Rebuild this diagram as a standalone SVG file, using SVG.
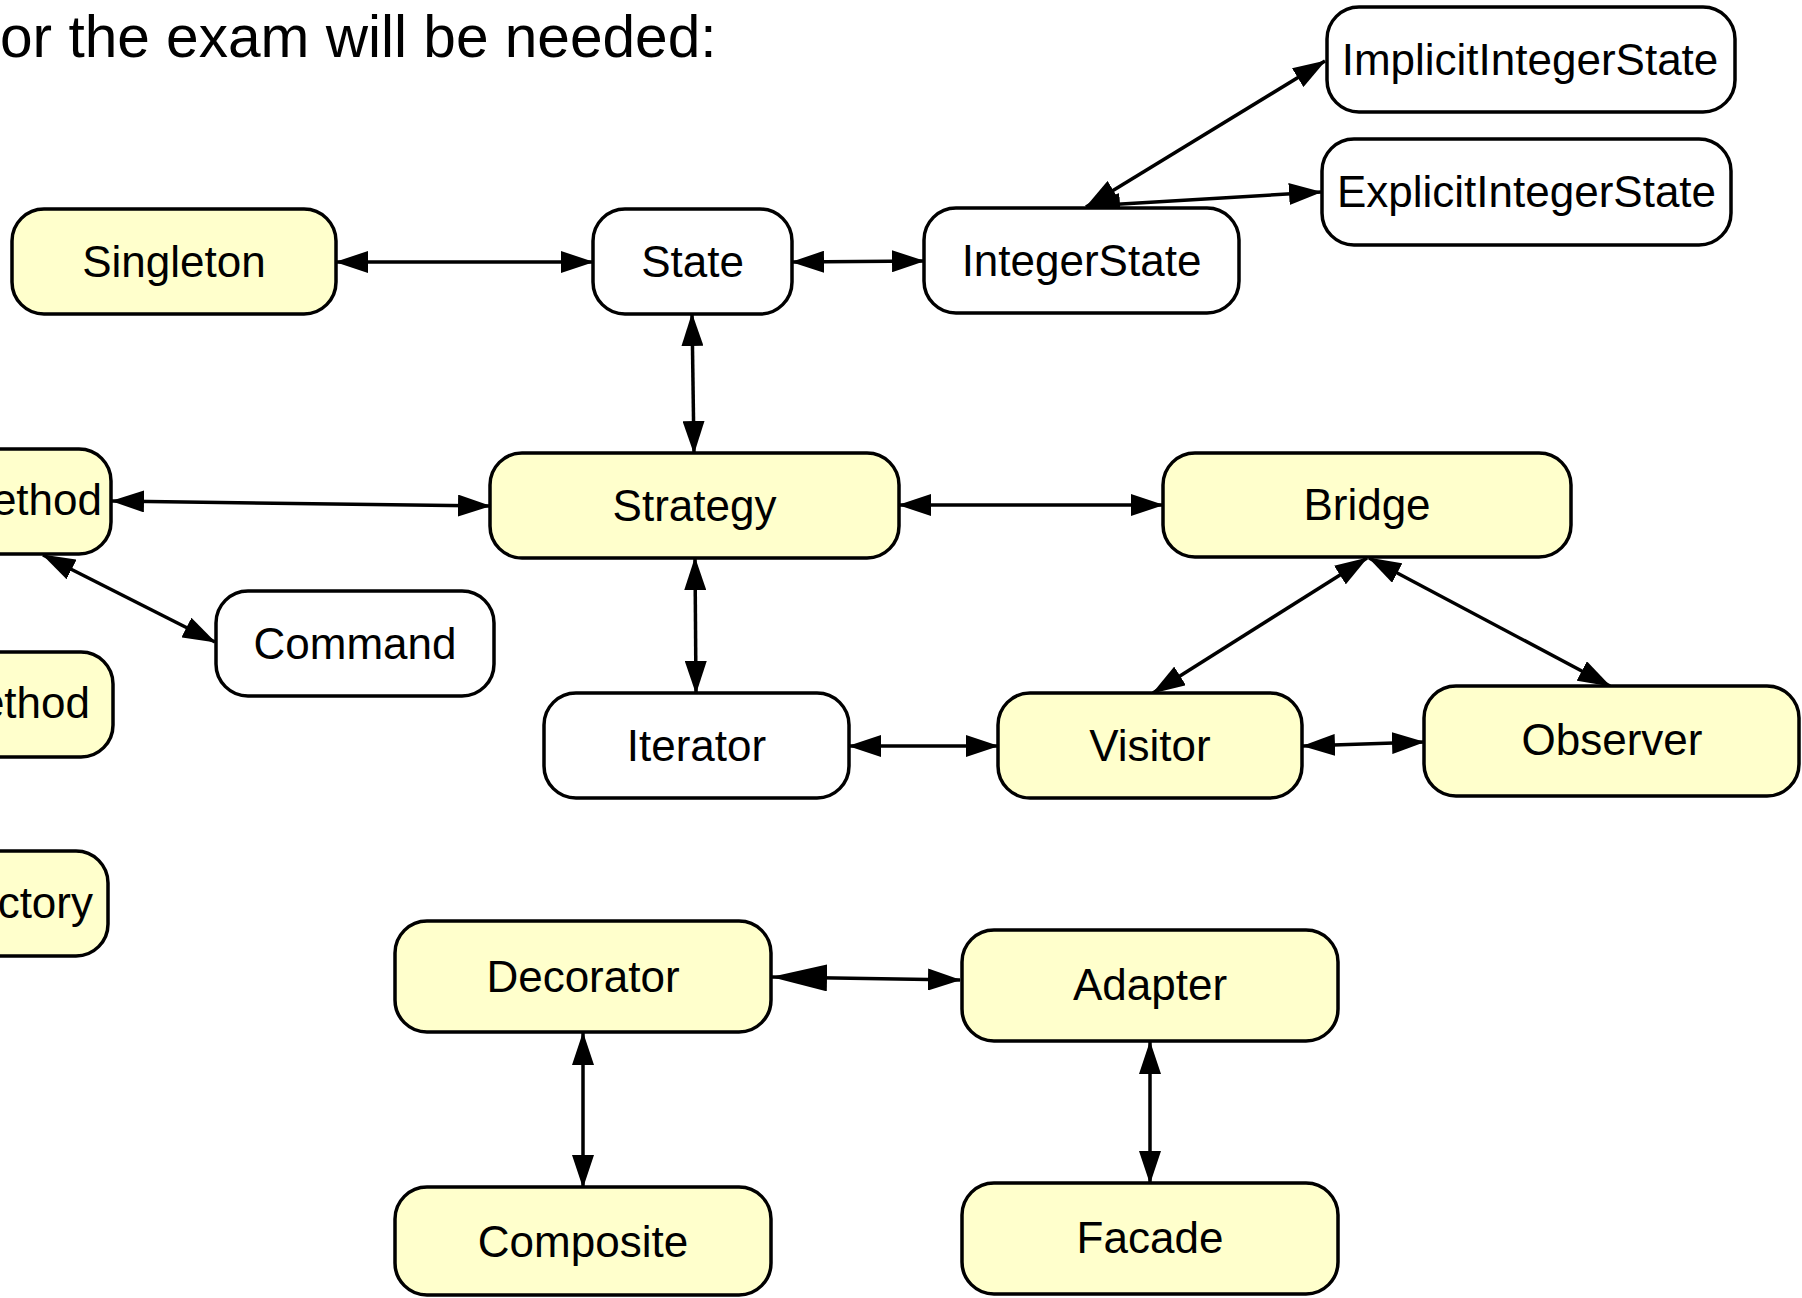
<svg xmlns="http://www.w3.org/2000/svg" width="1802" height="1298" viewBox="0 0 1802 1298">
<style>
.n rect{stroke:#000;stroke-width:3.5}
.y rect{fill:#ffffcc}
.w rect{fill:#ffffff}
.n text{font-family:"Liberation Sans",Arial,sans-serif;font-size:44px;fill:#000;text-anchor:middle}
.n text.e{text-anchor:end}
.title{font-family:"Liberation Sans",Arial,sans-serif;font-size:58.6px;fill:#000}
#edges line{stroke:#000;stroke-width:3.5;marker-start:url(#ah);marker-end:url(#ah)}
#edges line.big{marker-start:url(#ahb)}
</style>
<defs>
<marker id="ah" viewBox="0 0 33 22" refX="32" refY="11" markerWidth="33" markerHeight="22" markerUnits="userSpaceOnUse" orient="auto-start-reverse"><path d="M0,0 L33,11 L0,22 z" fill="#000"/></marker>
<marker id="ahb" viewBox="0 0 56 27" refX="55" refY="13.5" markerWidth="56" markerHeight="27" markerUnits="userSpaceOnUse" orient="auto-start-reverse"><path d="M0,0 L56,13.5 L0,27 z" fill="#000"/></marker>
</defs>
<rect width="1802" height="1298" fill="#fff"/>
<text class="title" x="0" y="57">or the exam will be needed:</text>
<g id="edges">
<line x1="336" y1="262" x2="593" y2="262"/>
<line x1="792" y1="262" x2="924" y2="261"/>
<line x1="692" y1="314" x2="694" y2="453"/>
<line x1="112" y1="501" x2="490" y2="506"/>
<line x1="43" y1="555" x2="215" y2="642"/>
<line x1="695" y1="558" x2="696" y2="693"/>
<line x1="899" y1="505" x2="1163" y2="505"/>
<line x1="1367" y1="558" x2="1153" y2="693"/>
<line x1="1369" y1="558" x2="1610" y2="686"/>
<line x1="849" y1="746" x2="998" y2="746"/>
<line x1="1303" y1="746" x2="1424" y2="742"/>
<line class="big" x1="772" y1="977" x2="960" y2="980"/>
<line x1="583" y1="1033" x2="583" y2="1187"/>
<line x1="1150" y1="1042" x2="1150" y2="1183"/>
<line x1="1086" y1="207" x2="1325" y2="61"/>
<line x1="1088" y1="206" x2="1321" y2="192"/>
</g>
<g id="singleton" class="n y"><rect x="12" y="209" width="324" height="105" rx="32"/><text x="174" y="277">Singleton</text></g>
<g id="state" class="n w"><rect x="593" y="209" width="199" height="105" rx="32"/><text x="692.5" y="277">State</text></g>
<g id="integerstate" class="n w"><rect x="924" y="208" width="315" height="105" rx="32"/><text x="1081.5" y="276">IntegerState</text></g>
<g id="implicitintegerstate" class="n w"><rect x="1327" y="7" width="408" height="105" rx="32"/><text x="1530" y="75">ImplicitIntegerState</text></g>
<g id="explicitintegerstate" class="n w"><rect x="1322" y="139" width="409" height="106" rx="32"/><text x="1526.5" y="207">ExplicitIntegerState</text></g>
<g id="method1" class="n y"><rect x="-40" y="449" width="151" height="105" rx="32"/><text class="e" x="102" y="515">ethod</text></g>
<g id="method2" class="n y"><rect x="-40" y="652" width="153" height="105" rx="32"/><text class="e" x="90" y="718">ethod</text></g>
<g id="factory" class="n y"><rect x="-40" y="851" width="148" height="105" rx="32"/><text class="e" x="93" y="918">ctory</text></g>
<g id="command" class="n w"><rect x="216" y="591" width="278" height="105" rx="32"/><text x="355" y="659">Command</text></g>
<g id="strategy" class="n y"><rect x="490" y="453" width="409" height="105" rx="32"/><text x="694.5" y="521">Strategy</text></g>
<g id="iterator" class="n w"><rect x="544" y="693" width="305" height="105" rx="32"/><text x="696.5" y="761">Iterator</text></g>
<g id="bridge" class="n y"><rect x="1163" y="453" width="408" height="104" rx="32"/><text x="1367" y="520">Bridge</text></g>
<g id="visitor" class="n y"><rect x="998" y="693" width="304" height="105" rx="32"/><text x="1150" y="761">Visitor</text></g>
<g id="observer" class="n y"><rect x="1424" y="686" width="375" height="110" rx="32"/><text x="1612" y="755">Observer</text></g>
<g id="decorator" class="n y"><rect x="395" y="921" width="376" height="111" rx="32"/><text x="583" y="992">Decorator</text></g>
<g id="adapter" class="n y"><rect x="962" y="930" width="376" height="111" rx="32"/><text x="1150" y="1000">Adapter</text></g>
<g id="composite" class="n y"><rect x="395" y="1187" width="376" height="108" rx="32"/><text x="583" y="1257">Composite</text></g>
<g id="facade" class="n y"><rect x="962" y="1183" width="376" height="111" rx="32"/><text x="1150" y="1253">Facade</text></g>
</svg>
